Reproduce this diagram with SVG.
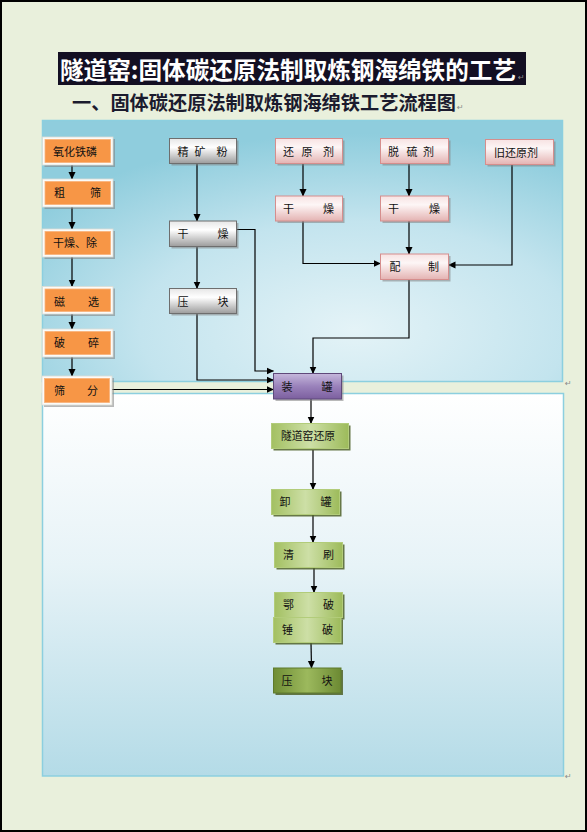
<svg xmlns="http://www.w3.org/2000/svg" width="587" height="832" viewBox="0 0 587 832">
<defs>
<radialGradient id="gUp" cx="0.6" cy="0.8" r="0.75">
<stop offset="0" stop-color="#e4f3f7"/><stop offset="0.55" stop-color="#c3e4ee"/><stop offset="1" stop-color="#8fcddd"/>
</radialGradient>
<linearGradient id="gLow" x1="0" y1="0" x2="0" y2="1">
<stop offset="0" stop-color="#ffffff"/><stop offset="0.45" stop-color="#e7f3f7"/><stop offset="1" stop-color="#b4dbe7"/>
</linearGradient>
<linearGradient id="gGray" x1="0" y1="0" x2="0" y2="1">
<stop offset="0" stop-color="#e6e6e6"/><stop offset="0.35" stop-color="#ffffff"/><stop offset="1" stop-color="#9c9c9c"/>
</linearGradient>
<linearGradient id="gPink" x1="0" y1="0" x2="0" y2="1">
<stop offset="0" stop-color="#f7e2e2"/><stop offset="0.35" stop-color="#fdf6f6"/><stop offset="1" stop-color="#e4b3b2"/>
</linearGradient>
<linearGradient id="gPurple" x1="0" y1="0" x2="0" y2="1">
<stop offset="0" stop-color="#c6b8dc"/><stop offset="0.5" stop-color="#9a82bb"/><stop offset="1" stop-color="#7c5f9f"/>
</linearGradient>
<linearGradient id="gGreen" x1="0" y1="0" x2="1" y2="0">
<stop offset="0" stop-color="#a3c062"/><stop offset="0.5" stop-color="#cddfa6"/><stop offset="1" stop-color="#9dbb5b"/>
</linearGradient>
<linearGradient id="gDark" x1="0" y1="0" x2="1" y2="0">
<stop offset="0" stop-color="#6f8d35"/><stop offset="0.5" stop-color="#9cb95d"/><stop offset="1" stop-color="#6c8a33"/>
</linearGradient>
<marker id="ah" markerWidth="8" markerHeight="8" refX="7" refY="4" orient="auto" markerUnits="userSpaceOnUse">
<path d="M0,0.5 L7.5,4 L0,7.5 Z" fill="#000"/>
</marker>
<style>
.t{font-family:"Noto Sans CJK SC","Liberation Sans",sans-serif;font-size:11px;fill:#111}
.sh{fill:#7f7f7f;opacity:0.55}
.shg{fill:#4f6228;opacity:0.85}
.frame{fill:#fbfbf8;stroke:#dcdcd4;stroke-width:0.8}
.or{fill:#f79646;stroke:#f9b27a;stroke-width:0.8}
.gray{fill:url(#gGray);stroke:#6e6e6e;stroke-width:1}
.pink{fill:url(#gPink);stroke:#d58e8d;stroke-width:1}
.pur{fill:url(#gPurple);stroke:#5f497a;stroke-width:1}
.grn{fill:url(#gGreen);stroke:#b2cc7a;stroke-width:1}
.dgrn{fill:url(#gDark);stroke:#5f7a2c;stroke-width:1}
.c{fill:none;stroke:#000;stroke-width:1.2;marker-end:url(#ah)}
.pm{font-family:"DejaVu Sans",sans-serif;font-size:8px;fill:#8a8a8a}
</style>
</defs>
<rect x="0" y="0" width="587" height="832" fill="#e9f0dc"/>
<rect x="1" y="1" width="585" height="830" fill="none" stroke="#000" stroke-width="2"/>
<g id="title">
<rect x="58" y="52" width="468" height="33" fill="#130f22"/>
<text x="60" y="78.5" font-family="'Noto Sans CJK SC',sans-serif" font-size="23.5" font-weight="700" fill="#ffffff" textLength="456" lengthAdjust="spacingAndGlyphs">隧道窑:固体碳还原法制取炼钢海绵铁的工艺</text>
<text x="518" y="80" class="pm">↵</text>
</g>
<g id="subtitle">
<text x="72" y="110" font-family="'Noto Sans CJK SC',sans-serif" font-size="19" font-weight="700" fill="#1b1b2e" textLength="384" lengthAdjust="spacingAndGlyphs">一、固体碳还原法制取炼钢海绵铁工艺流程图</text>
<text x="457" y="110" class="pm">↵</text>
</g>
<g id="panels">
<rect x="42.5" y="120.5" width="520" height="261" fill="url(#gUp)" stroke="#8ccfdf" stroke-width="1.5"/>
<rect x="42.5" y="393.5" width="521" height="382.5" fill="url(#gLow)" stroke="#8ccfdf" stroke-width="1.5"/>
<text x="565" y="386" class="pm">↵</text>
<text x="565" y="779" class="pm">↵</text>
</g>
<g id="connectors">
<path class="c" d="M72,165 V179"/>
<path class="c" d="M72,207 V229"/>
<path class="c" d="M72,257 V286.5"/>
<path class="c" d="M72,314 V329"/>
<path class="c" d="M72,357 V376"/>
<path class="c" d="M197,163.5 V221"/>
<path class="c" d="M197,246.5 V288.5"/>
<path class="c" d="M236.5,229.5 H255 V371 H273.5"/>
<path class="c" d="M197,313.5 V380 H273.5"/>
<path class="c" d="M111.5,389.5 H273.5"/>
<path class="c" d="M303,163.5 V196"/>
<path class="c" d="M409,163.5 V196"/>
<path class="c" d="M303,221 V263.5 H380.5"/>
<path class="c" d="M409,221 V254"/>
<path class="c" d="M512,164.5 V265 H448.5"/>
<path class="c" d="M409,279.5 V338 H313 V373.5"/>
<path class="c" d="M311,399 V423.5"/>
<path class="c" d="M313,450 V489.5"/>
<path class="c" d="M313,514.5 V542.5"/>
<path class="c" d="M314,567.5 V592.5"/>
<path class="c" d="M311,642.5 L311.5,668"/>
</g>
<g id="n1"><rect class="sh" x="44.5" y="139" width="70.5" height="28"/><rect class="frame" x="42.5" y="137" width="70.5" height="28"/><rect class="or" x="45" y="139.5" width="65.5" height="23"/><text class="t" x="53" y="156">氧化铁磷</text></g>
<g id="n2"><rect class="sh" x="44.5" y="181" width="70.5" height="28"/><rect class="frame" x="42.5" y="179" width="70.5" height="28"/><rect class="or" x="45" y="181.5" width="65.5" height="23"/><text class="t" x="54" y="197">粗</text><text class="t" x="90" y="197">筛</text></g>
<g id="n3"><rect class="sh" x="44.5" y="231" width="70.5" height="28"/><rect class="frame" x="42.5" y="229" width="70.5" height="28"/><rect class="or" x="45" y="231.5" width="65.5" height="23"/><text class="t" x="53" y="247">干燥、除</text></g>
<g id="n4"><rect class="sh" x="44.5" y="288.5" width="70.5" height="27.5"/><rect class="frame" x="42.5" y="286.5" width="70.5" height="27.5"/><rect class="or" x="45" y="289" width="65.5" height="22.5"/><text class="t" x="54" y="306">磁</text><text class="t" x="88" y="306">选</text></g>
<g id="n5"><rect class="sh" x="44.5" y="331" width="70.5" height="28"/><rect class="frame" x="42.5" y="329" width="70.5" height="28"/><rect class="or" x="45" y="331.5" width="65.5" height="23"/><text class="t" x="54" y="347">破</text><text class="t" x="88" y="347">碎</text></g>
<g id="n6"><rect class="sh" x="44" y="378" width="70" height="29"/><rect class="frame" x="42" y="376" width="70" height="29"/><rect class="or" x="44.5" y="378.5" width="65" height="24"/><text class="t" x="54" y="394.5">筛</text><text class="t" x="87" y="394.5">分</text></g>
<g id="n7"><rect class="sh" x="171.5" y="140.5" width="67" height="25"/><rect class="gray" x="169.5" y="138.5" width="67" height="25"/><text class="t" x="177.5" y="156">精</text><text class="t" x="194.5" y="156">矿</text><text class="t" x="216.5" y="156">粉</text></g>
<g id="n8"><rect class="sh" x="171.5" y="223" width="67" height="25.5"/><rect class="gray" x="169.5" y="221" width="67" height="25.5"/><text class="t" x="177.5" y="238">干</text><text class="t" x="217.5" y="238">燥</text></g>
<g id="n9"><rect class="sh" x="171.5" y="290.5" width="67" height="25"/><rect class="gray" x="169.5" y="288.5" width="67" height="25"/><text class="t" x="177.5" y="306">压</text><text class="t" x="217.5" y="306">块</text></g>
<g id="n10"><rect class="sh" x="277.5" y="140.5" width="67" height="25"/><rect class="pink" x="275.5" y="138.5" width="67" height="25"/><text class="t" x="283" y="156">还</text><text class="t" x="301.5" y="156">原</text><text class="t" x="323" y="156">剂</text></g>
<g id="n11"><rect class="sh" x="382.5" y="140.5" width="68" height="25"/><rect class="pink" x="380.5" y="138.5" width="68" height="25"/><text class="t" x="388" y="156">脱</text><text class="t" x="406.5" y="156">硫</text><text class="t" x="423" y="156">剂</text></g>
<g id="n12"><rect class="sh" x="487.5" y="141.5" width="68" height="25"/><rect class="pink" x="485.5" y="139.5" width="68" height="25"/><text class="t" x="494" y="157">旧还原剂</text></g>
<g id="n13"><rect class="sh" x="277.5" y="198" width="67" height="25"/><rect class="pink" x="275.5" y="196" width="67" height="25"/><text class="t" x="283" y="213">干</text><text class="t" x="323" y="213">燥</text></g>
<g id="n14"><rect class="sh" x="382.5" y="198" width="68" height="25"/><rect class="pink" x="380.5" y="196" width="68" height="25"/><text class="t" x="388" y="213">干</text><text class="t" x="429" y="213">燥</text></g>
<g id="n15"><rect class="sh" x="382.5" y="256" width="68" height="25.5"/><rect class="pink" x="380.5" y="254" width="68" height="25.5"/><text class="t" x="389.5" y="271">配</text><text class="t" x="428" y="271">制</text></g>
<g id="n16"><rect class="sh" x="275.5" y="375.5" width="68" height="25.5"/><rect class="pur" x="273.5" y="373.5" width="68" height="25.5"/><text class="t" x="281.5" y="390.5">装</text><text class="t" x="321.5" y="390.5">罐</text></g>
<g id="n17"><rect class="shg" x="273.5" y="425.5" width="77" height="25"/><rect class="grn" x="271.5" y="423.5" width="77" height="25"/><text class="t" x="281" y="440" textLength="54" lengthAdjust="spacingAndGlyphs">隧道窑还原</text></g>
<g id="n18"><rect class="shg" x="273.5" y="491.5" width="68" height="25"/><rect class="grn" x="271.5" y="489.5" width="68" height="25"/><text class="t" x="279.5" y="506">卸</text><text class="t" x="320.5" y="506">罐</text></g>
<g id="n19"><rect class="shg" x="276.5" y="544.5" width="68" height="25"/><rect class="grn" x="274.5" y="542.5" width="68" height="25"/><text class="t" x="283" y="558.5">清</text><text class="t" x="323" y="558.5">刷</text></g>
<g id="n20"><rect class="shg" x="276.5" y="594.5" width="68" height="25"/><rect class="grn" x="274.5" y="592.5" width="68" height="25"/><text class="t" x="283" y="609">鄂</text><text class="t" x="323" y="609">破</text></g>
<g id="n21"><rect class="shg" x="275.5" y="619.5" width="67.5" height="25"/><rect class="grn" x="273.5" y="617.5" width="67.5" height="25"/><text class="t" x="282" y="634">锤</text><text class="t" x="322" y="634">破</text></g>
<g id="n22"><rect class="shg" x="275.5" y="670" width="67.5" height="25"/><rect class="dgrn" x="273.5" y="668" width="67.5" height="25"/><text class="t" x="281.5" y="685">压</text><text class="t" x="321.5" y="685">块</text></g>
</svg>
